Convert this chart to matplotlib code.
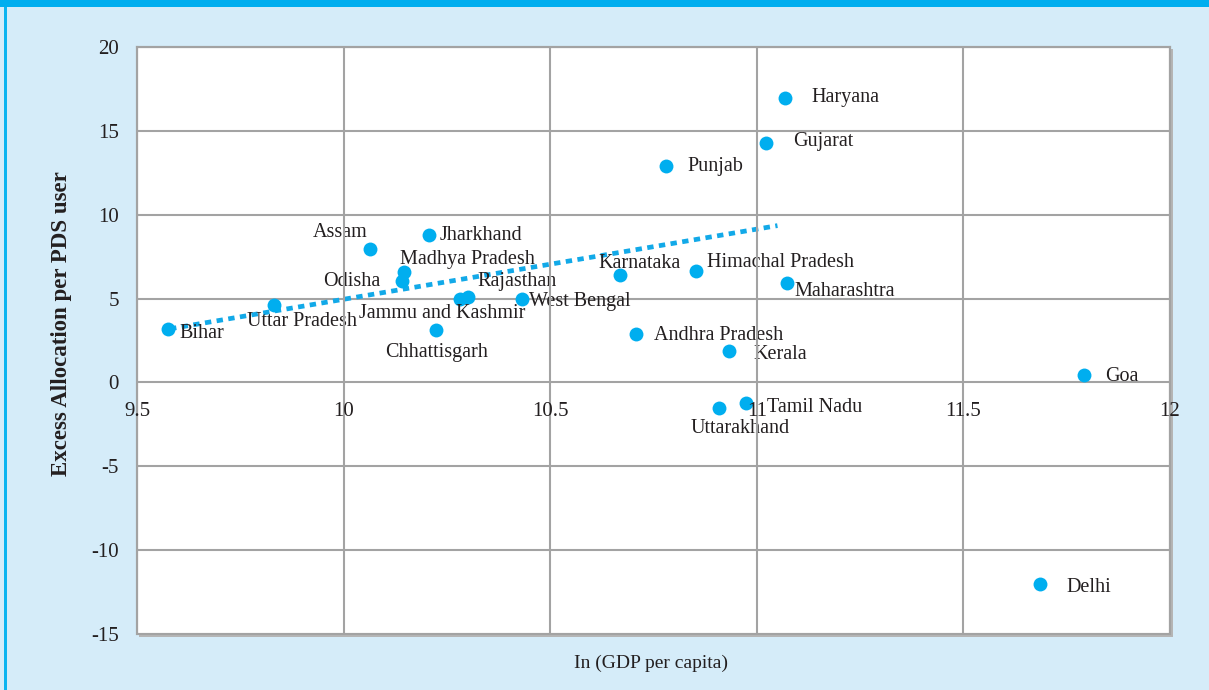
import matplotlib
matplotlib.use("Agg")
import matplotlib.pyplot as plt
from matplotlib.patches import Rectangle

plt.rcParams['font.family'] = ['Liberation Serif', 'DejaVu Serif']
plt.rcParams['axes.unicode_minus'] = False

states = ['Bihar', 'Uttar Pradesh', 'Assam', 'Jharkhand', 'Madhya Pradesh', 'Odisha',
          'Rajasthan', 'Jammu and Kashmir', 'Chhattisgarh', 'West Bengal', 'Karnataka',
          'Himachal Pradesh', 'Maharashtra', 'Andhra Pradesh', 'Kerala', 'Uttarakhand',
          'Tamil Nadu', 'Punjab', 'Gujarat', 'Haryana', 'Goa', 'Delhi']
ln_gdp = [9.575, 9.832, 10.064, 10.207, 10.146, 10.142,
          10.301, 10.282, 10.224, 10.432, 10.669,
          10.854, 11.074, 10.708, 10.933, 10.909,
          10.975, 10.781, 11.023, 11.069, 11.793, 11.686]
excess = [3.16, 4.59, 7.93, 8.82, 6.56, 6.02,
          5.07, 4.95, 3.10, 4.95, 6.38,
          6.67, 5.90, 2.86, 1.85, -1.55,
          -1.25, 12.93, 14.30, 16.98, 0.42, -12.04]

trend_x = [9.58, 11.05]
trend_y = [3.2, 9.35]

x_ticks = [9.5, 10, 10.5, 11, 11.5, 12]
x_tick_labels = ['9.5', '10', '10.5', '11', '11.5', '12']
y_ticks = [-15, -10, -5, 0, 5, 10, 15, 20]

# label offsets in pixels (dx, dy), with horizontal alignment
label_pos = {
    'Bihar': (11, -4, 'left'),
    'Uttar Pradesh': (-27, -16, 'left'),
    'Assam': (-2, 17, 'right'),
    'Jharkhand': (10, -1, 'left'),
    'Madhya Pradesh': (-4, 13, 'left'),
    'Odisha': (-22, 0, 'right'),
    'Rajasthan': (9, 16, 'left'),
    'Jammu and Kashmir': (-101, -14, 'left'),
    'Chhattisgarh': (-51, -22, 'left'),
    'West Bengal': (7, -2, 'left'),
    'Karnataka': (-22, 12, 'left'),
    'Himachal Pradesh': (11, 8, 'left'),
    'Maharashtra': (7, -8, 'left'),
    'Andhra Pradesh': (18, -1, 'left'),
    'Kerala': (24, -3, 'left'),
    'Uttarakhand': (-29, -20, 'left'),
    'Tamil Nadu': (21, -4, 'left'),
    'Punjab': (21, -1, 'left'),
    'Gujarat': (27, 1, 'left'),
    'Haryana': (26, 0, 'left'),
    'Goa': (21, -1, 'left'),
    'Delhi': (26, -3, 'left'),
}

blue = '#00aeef'
bg = '#d5ecf9'
grid_c = '#a3a3a3'
text_c = '#231f20'

fig = plt.figure(figsize=(12.09, 6.90), dpi=100, facecolor=bg)
ax = fig.add_axes([137 / 1209, 1 - 634 / 690, 1033 / 1209, 587 / 690])
ax.set_facecolor('white')

# outer decoration: top bar and left rule
fig.patches.append(Rectangle((0, 1 - 7 / 690), 1, 7 / 690, transform=fig.transFigure,
                             facecolor=blue, edgecolor='none', zorder=-2))
fig.patches.append(Rectangle((4 / 1209, 0), 2.5 / 1209, 1 - 7 / 690, transform=fig.transFigure,
                             facecolor='#0bb4f0', edgecolor='none', zorder=-2))
# drop shadow behind the plot frame
fig.patches.append(Rectangle((139 / 1209, 1 - 637 / 690), 1034 / 1209, 588 / 690,
                             transform=fig.transFigure, facecolor='#b5b5b5',
                             edgecolor='none', zorder=-2))

ax.set_xlim(9.5, 12)
ax.set_ylim(-15, 20)
ax.set_xticks(x_ticks)
ax.set_xticklabels(x_tick_labels)
ax.set_yticks(y_ticks)
ax.grid(True, color=grid_c, linewidth=1.5)
ax.set_axisbelow(True)

for s in ['top', 'left', 'right']:
    ax.spines[s].set_color(grid_c)
    ax.spines[s].set_linewidth(1.5)
# x tick labels sit on the zero line
ax.spines['bottom'].set_position(('data', 0))
ax.spines['bottom'].set_visible(False)
ax.add_patch(Rectangle((0, 0), 1, 1, transform=ax.transAxes, fill=False,
                       edgecolor=grid_c, linewidth=1.5, zorder=5, clip_on=False))

ax.tick_params(axis='both', length=0, labelsize=15, colors=text_c)
ax.tick_params(axis='x', pad=14)
ax.tick_params(axis='y', pad=13)
ax.xaxis.set_zorder(6)

ax.plot(trend_x, trend_y, color='#12a9e8', linewidth=3.4,
        linestyle=(0, (1.35, 1.15)), dash_capstyle='butt', zorder=3)
ax.plot(ln_gdp, excess, 'o', color=blue, markersize=10, markeredgewidth=0, zorder=4)

for name, x, y in zip(states, ln_gdp, excess):
    dx, dy, ha = label_pos[name]
    ax.annotate(name, (x, y), xytext=(dx * 0.72, dy * 0.72), textcoords='offset points',
                ha=ha, va='center', fontsize=14.5, color=text_c, zorder=6)

ax.set_ylabel('Excess Allocation per PDS user', fontsize=16.5, fontweight='bold',
              color=text_c)
ax.yaxis.set_label_coords(-0.063, 0.528)
ax.set_xlabel('In (GDP per capita)', fontsize=14, color=text_c)
ax.xaxis.set_label_coords(0.498, -0.036)

fig.savefig('out.png', dpi=100, facecolor=bg)
